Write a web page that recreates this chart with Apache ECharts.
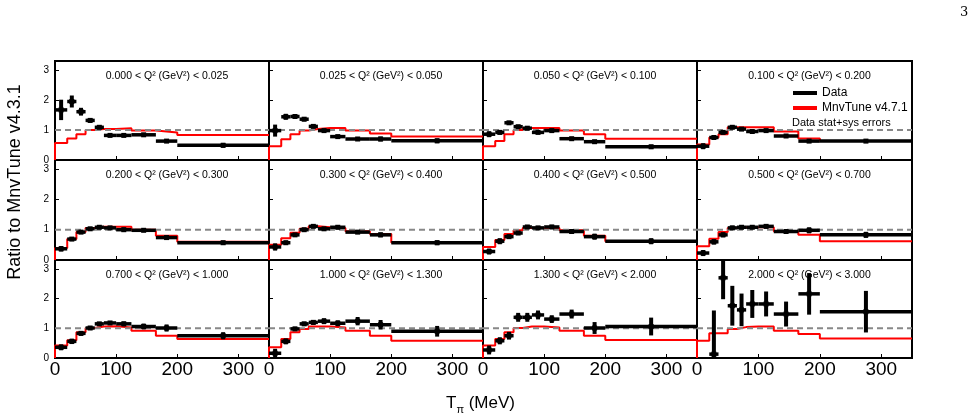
<!DOCTYPE html>
<html>
<head>
<meta charset="utf-8">
<script src="https://cdn.jsdelivr.net/npm/echarts@6/dist/echarts.min.js"></script>
<style>
html, body { margin: 0; padding: 0; background: #fff; }
#chart { width: 976px; height: 420px; }
</style>
</head>
<body>
<div id="chart"></div>
<script>
// T_pi bin edges (MeV)
let binEdges = [0, 20, 35, 50, 65, 80, 100, 125, 165, 200, 350];
let panelTitles = [
    '0.000 < Q² (GeV²) < 0.025', '0.025 < Q² (GeV²) < 0.050', '0.050 < Q² (GeV²) < 0.100', '0.100 < Q² (GeV²) < 0.200',
    '0.200 < Q² (GeV²) < 0.300', '0.300 < Q² (GeV²) < 0.400', '0.400 < Q² (GeV²) < 0.500', '0.500 < Q² (GeV²) < 0.700',
    '0.700 < Q² (GeV²) < 1.000', '1.000 < Q² (GeV²) < 1.300', '1.300 < Q² (GeV²) < 2.000', '2.000 < Q² (GeV²) < 3.000'
];
// data / MnvTune v4.3.1 ratio, one row per Q2 panel
let dataRatio = [
    [1.67, 1.95, 1.61, 1.32, 1.09, 0.82, 0.82, 0.84, 0.63, 0.49],
    [0.98, 1.44, 1.45, 1.36, 1.12, 0.98, 0.78, 0.70, 0.70, 0.64],
    [0.86, 0.92, 1.24, 1.11, 1.06, 0.92, 0.98, 0.71, 0.61, 0.44],
    [0.46, 0.75, 0.92, 1.09, 1.03, 0.95, 0.98, 0.80, 0.63, 0.63],
    [0.37, 0.69, 0.92, 1.03, 1.08, 1.06, 1.00, 0.98, 0.74, 0.57],
    [0.43, 0.57, 0.83, 1.00, 1.11, 1.03, 1.08, 0.92, 0.83, 0.57],
    [0.28, 0.62, 0.77, 0.89, 1.09, 1.06, 1.09, 0.94, 0.77, 0.62],
    [0.23, 0.60, 0.83, 1.06, 1.08, 1.08, 1.11, 0.94, 0.98, 0.83],
    [0.36, 0.56, 0.83, 1.01, 1.15, 1.18, 1.15, 1.06, 1.01, 0.75],
    [0.16, 0.56, 0.98, 1.15, 1.20, 1.24, 1.17, 1.24, 1.12, 0.90],
    [0.27, 0.58, 0.75, 1.37, 1.37, 1.45, 1.31, 1.48, 1.01, 1.06],
    [null, 0.13, 2.70, 1.76, 1.62, 1.82, 1.82, 1.48, 2.16, 1.56]
];
// stat+sys errors on the data ratio
let dataErr = [
    [0.34, 0.20, 0.13, 0.08, 0.06, 0.04, 0.04, 0.04, 0.05, 0.08],
    [0.20, 0.10, 0.08, 0.07, 0.05, 0.04, 0.04, 0.04, 0.08, 0.08],
    [0.10, 0.07, 0.06, 0.05, 0.04, 0.04, 0.04, 0.04, 0.05, 0.07],
    [0.10, 0.07, 0.05, 0.05, 0.04, 0.04, 0.04, 0.04, 0.05, 0.06],
    [0.09, 0.06, 0.05, 0.04, 0.04, 0.04, 0.07, 0.04, 0.07, 0.07],
    [0.12, 0.07, 0.05, 0.05, 0.05, 0.04, 0.07, 0.06, 0.08, 0.08],
    [0.10, 0.10, 0.07, 0.06, 0.06, 0.05, 0.07, 0.07, 0.10, 0.10],
    [0.10, 0.09, 0.08, 0.07, 0.06, 0.05, 0.07, 0.08, 0.10, 0.10],
    [0.10, 0.09, 0.08, 0.06, 0.06, 0.06, 0.08, 0.10, 0.12, 0.12],
    [0.15, 0.10, 0.07, 0.07, 0.08, 0.10, 0.10, 0.14, 0.16, 0.18],
    [0.15, 0.12, 0.13, 0.15, 0.15, 0.15, 0.13, 0.15, 0.20, 0.30],
    [0, 1.47, 0.72, 0.67, 0.55, 0.47, 0.42, 0.42, 0.70, 0.70]
];
// MnvTune v4.7.1 / MnvTune v4.3.1
let tuneRatio = [
    [0.57, 0.72, 0.86, 1.00, 1.03, 1.03, 1.06, 0.98, 0.92, 0.83],
    [0.46, 0.69, 0.86, 0.98, 1.03, 1.07, 1.07, 0.98, 0.88, 0.78],
    [0.46, 0.63, 0.86, 1.00, 1.07, 1.07, 1.07, 0.98, 0.86, 0.71],
    [0.52, 0.75, 0.86, 1.09, 1.09, 1.09, 1.09, 0.95, 0.72, 0.63],
    [0.40, 0.69, 0.92, 1.06, 1.10, 1.10, 1.10, 1.00, 0.80, 0.60],
    [0.50, 0.72, 0.90, 1.03, 1.11, 1.08, 1.06, 0.95, 0.86, 0.58],
    [0.43, 0.66, 0.86, 0.98, 1.06, 1.06, 1.06, 0.98, 0.80, 0.62],
    [0.45, 0.70, 0.92, 1.06, 1.08, 1.08, 1.08, 0.95, 0.83, 0.62],
    [0.42, 0.60, 0.87, 1.01, 1.06, 1.07, 1.03, 0.92, 0.75, 0.64],
    [0.36, 0.64, 0.87, 0.98, 1.06, 1.06, 1.03, 0.92, 0.75, 0.58],
    [0.42, 0.64, 0.87, 1.01, 1.06, 1.06, 1.03, 0.92, 0.75, 0.61],
    [0.58, 0.83, 0.83, 0.98, 1.04, 1.06, 1.06, 0.92, 0.81, 0.66]
];
let xTicks = [0, 100, 200, 300];
let yTicks = [0, 1, 2, 3];

let fontName = 'Liberation Sans, Arial, sans-serif';
let colLeft = [55, 269, 483, 697];
let colWidth = [214, 214, 214, 215];
let rowTop = [61, 160, 260];
let rowHeight = [99, 100, 98];

let chart = echarts.init(document.getElementById('chart'));

let grids = [], xAxes = [], yAxes = [], series = [], titles = [];
for (let p = 0; p < 12; p++) {
    let r = Math.floor(p / 4), c = p % 4;
    grids.push({
        left: colLeft[c], top: rowTop[r], width: colWidth[c], height: rowHeight[r],
        show: true, borderColor: '#000', borderWidth: 2, backgroundColor: 'transparent'
    });
    // bottom axis (labels only on last row)
    xAxes.push({
        gridIndex: p, type: 'value', min: 0, max: 350, interval: 100,
        axisLine: { show: false },
        axisTick: { show: true, inside: true, length: 4, lineStyle: { color: '#000', width: 1 } },
        splitLine: { show: false },
        axisLabel: {
            show: r === 2, showMaxLabel: false, margin: 2,
            fontSize: 19, color: '#000', fontFamily: fontName,
            formatter: v => xTicks.indexOf(v) >= 0 ? String(v) : ''
        }
    });
    yAxes.push({
        gridIndex: p, type: 'value', min: 0, max: 3.3, interval: 1,
        axisLine: { show: false },
        axisTick: { show: true, inside: true, length: 4, lineStyle: { color: '#000', width: 1 } },
        splitLine: { show: false },
        axisLabel: {
            show: c === 0, showMaxLabel: false, margin: 6,
            fontSize: 10, color: '#000', fontFamily: fontName,
            formatter: v => yTicks.indexOf(v) >= 0 ? String(v) : ''
        }
    });
    titles.push({
        text: panelTitles[p],
        left: colLeft[c] + colWidth[c] / 2, top: rowTop[r] + 5, textAlign: 'center',
        textStyle: { fontSize: 10.5, fontWeight: 'normal', color: '#000', fontFamily: fontName }
    });

    // red step histogram
    let steps = [[binEdges[0], 0]];
    for (let i = 0; i < tuneRatio[p].length; i++) steps.push([binEdges[i], tuneRatio[p][i]]);
    steps.push([binEdges[binEdges.length - 1], tuneRatio[p][tuneRatio[p].length - 1]]);
    series.push({
        name: 'MnvTune v4.7.1', type: 'line', xAxisIndex: p, yAxisIndex: p,
        step: 'end', data: steps, symbol: 'none', z: 2,
        lineStyle: { color: '#ff0000', width: 2 }, itemStyle: { color: '#ff0000' }
    });
    // dashed unity line
    series.push({
        type: 'line', xAxisIndex: p, yAxisIndex: p, data: [[0, 1], [350, 1]],
        symbol: 'none', z: 3, silent: true,
        lineStyle: { color: '#888', width: 2, type: [6, 4] }
    });
    // data points with error bars
    let pts = [];
    for (let i = 0; i < dataRatio[p].length; i++) {
        if (dataRatio[p][i] == null) continue;
        pts.push([binEdges[i], binEdges[i + 1], dataRatio[p][i], dataErr[p][i]]);
    }
    series.push({
        name: 'Data', type: 'custom', xAxisIndex: p, yAxisIndex: p, z: 4, clip: true,
        itemStyle: { color: '#000' },
        data: pts,
        renderItem: function (params, api) {
            let x0 = api.value(0), x1 = api.value(1), y = api.value(2), e = api.value(3);
            let xm = (x0 + x1) / 2;
            let pl = api.coord([x0, y]), pr = api.coord([x1, y]);
            let pt = api.coord([xm, y + e]), pb = api.coord([xm, y - e]);
            let pc = api.coord([xm, y]);
            return {
                type: 'group',
                children: [
                    { type: 'line', shape: { x1: pl[0], y1: pl[1], x2: pr[0], y2: pr[1] }, style: { stroke: '#000', lineWidth: 3.5 } },
                    { type: 'line', shape: { x1: pt[0], y1: pt[1], x2: pb[0], y2: pb[1] }, style: { stroke: '#000', lineWidth: 4 } },
                    { type: 'rect', shape: { x: pc[0] - 2.5, y: pc[1] - 2.5, width: 5, height: 5 }, style: { fill: '#000' } }
                ]
            };
        }
    });
}

let option = {
    animation: false,
    backgroundColor: '#fff',
    title: titles,
    grid: grids,
    xAxis: xAxes,
    yAxis: yAxes,
    legend: {
        orient: 'vertical', left: 788, top: 82, itemGap: 3,
        itemWidth: 24, itemHeight: 4,
        textStyle: { fontSize: 12, color: '#000', fontFamily: fontName },
        data: [
            { name: 'Data', icon: 'rect', itemStyle: { color: '#000' } },
            { name: 'MnvTune v4.7.1', icon: 'rect', itemStyle: { color: '#ff0000' } }
        ]
    },
    graphic: [
        {
            type: 'text', left: 792, top: 117,
            style: { text: 'Data stat+sys errors', fontSize: 11, fill: '#000', fontFamily: fontName }
        },
        {
            type: 'text', x: 15, y: 182, rotation: Math.PI / 2,
            style: {
                text: 'Ratio to MnvTune v4.3.1', fontSize: 18, fill: '#000', fontFamily: fontName,
                align: 'center', verticalAlign: 'middle'
            }
        },
        {
            type: 'text', left: 446, top: 395,
            style: {
                text: '{t|T}{s|π}{t| (MeV)}', fill: '#000',
                rich: {
                    t: { fontSize: 17, fontFamily: fontName },
                    s: { fontSize: 11, fontFamily: fontName, padding: [12, 0, 0, 0] }
                }
            }
        },
        {
            type: 'text', left: 960, top: 6,
            style: { text: '3', fontSize: 13, fill: '#000', fontFamily: 'DejaVu Serif, serif' }
        }
    ],
    series: series
};
chart.setOption(option);
window.addEventListener('resize', function () {
    chart.resize();
});
</script>
</body>
</html>
